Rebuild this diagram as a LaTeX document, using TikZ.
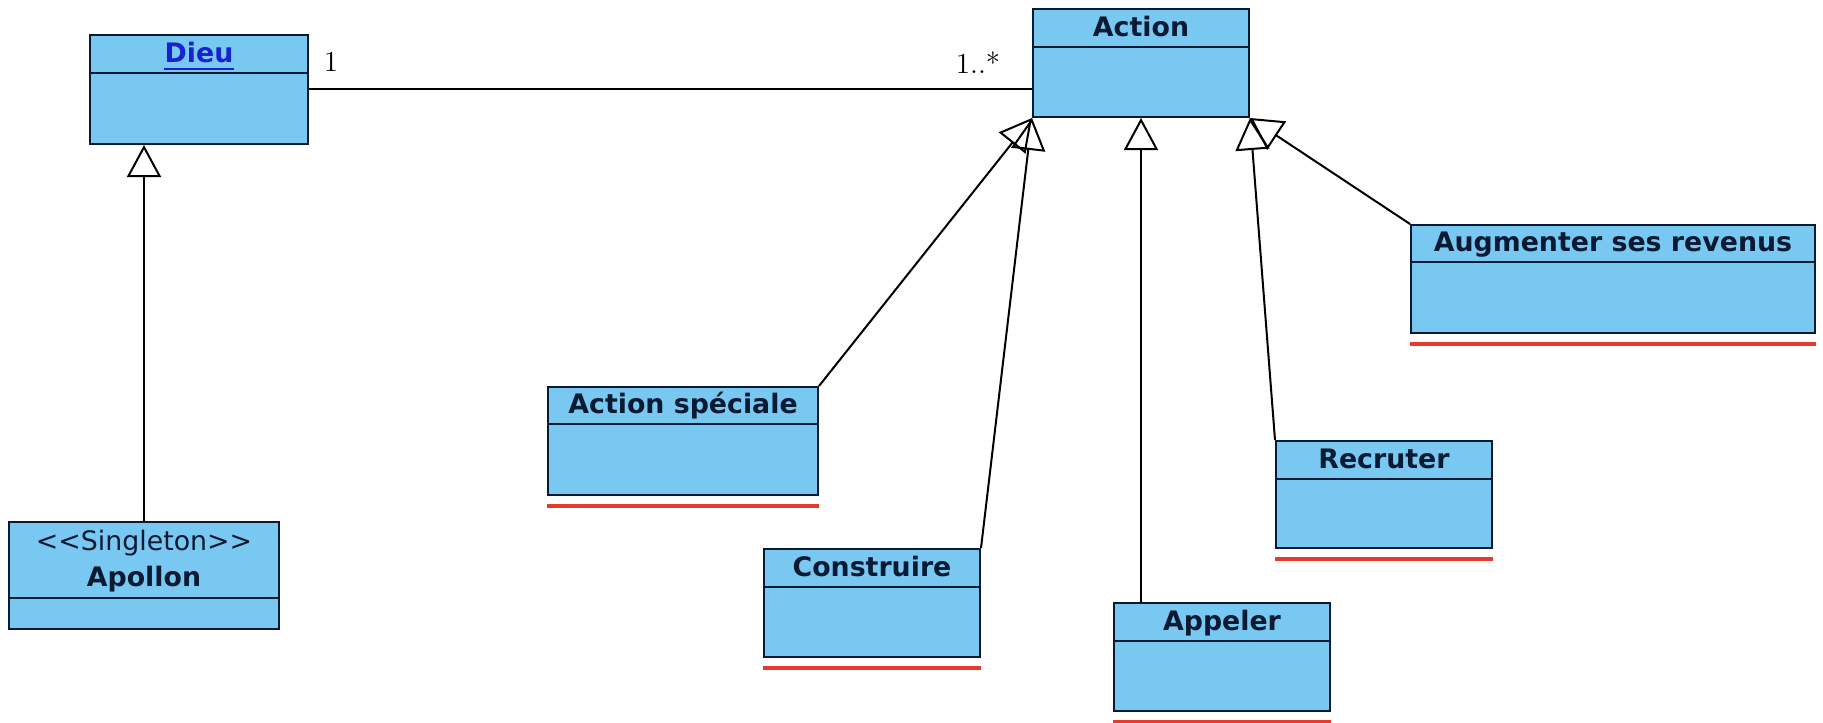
\documentclass[tikz,border=0pt]{standalone}
\usepackage{fontspec}
\newfontfamily\umlfont{DejaVu Sans}
\usetikzlibrary{arrows.meta,fit}

\definecolor{classfill}{HTML}{78C8F2}
\definecolor{classink}{HTML}{0B1A33}
\definecolor{linkblue}{HTML}{1A22D0}
\definecolor{abstractred}{HTML}{E63A2E}

\tikzset{
  classbox/.style={rectangle, draw=classink, fill=classfill, line width=1pt, inner sep=0pt},
  compartment/.style={draw=classink, line width=1pt},
  classname/.style={anchor=base, inner sep=0pt, text=classink,
    font=\umlfont\bfseries\fontsize{13.4}{16}\selectfont},
  stereo/.style={anchor=base, inner sep=0pt, text=classink,
    font=\umlfont\fontsize{13.4}{16}\selectfont},
  gen/.style={draw=black, line width=1pt, -{Triangle[open, length=16pt, width=17pt]}},
  assoc/.style={draw=black, line width=1pt},
  mult/.style={inner sep=0pt, font=\fontsize{14.5}{17}\selectfont},
  abstractmark/.style={draw=abstractred, line width=1.6pt},
}

\begin{document}
\begin{tikzpicture}[x=0.5pt, y=-0.5pt]
\useasboundingbox (0,0) rectangle (1823,722);

% class boxes
\node[classbox, fit={(90,35) (308,144)}] (dieu) {};
\node[classbox, fit={(9,522) (279,629)}] (apollon) {};
\node[classbox, fit={(1033,9) (1249,117)}] (action) {};
\node[classbox, fit={(1411,225) (1815,333)}] (augmenter) {};
\node[classbox, fit={(548,387) (818,495)}] (speciale) {};
\node[classbox, fit={(764,549) (980,657)}] (construire) {};
\node[classbox, fit={(1114,603) (1330,711)}] (appeler) {};
\node[classbox, fit={(1276,441) (1492,548)}] (recruter) {};

% compartment separators
\draw[compartment] (dieu.west |- 0,73) -- (dieu.east |- 0,73);
\draw[compartment] (apollon.west |- 0,598) -- (apollon.east |- 0,598);
\draw[compartment] (action.west |- 0,47) -- (action.east |- 0,47);
\draw[compartment] (augmenter.west |- 0,262) -- (augmenter.east |- 0,262);
\draw[compartment] (speciale.west |- 0,424) -- (speciale.east |- 0,424);
\draw[compartment] (construire.west |- 0,587) -- (construire.east |- 0,587);
\draw[compartment] (appeler.west |- 0,641) -- (appeler.east |- 0,641);
\draw[compartment] (recruter.west |- 0,479) -- (recruter.east |- 0,479);

% class names
\node[classname, text=linkblue] (dieuname) at (dieu.north |- 0,63) {Dieu};
\draw[linkblue, line width=1pt] ([yshift=-3pt]dieuname.base west) -- ([yshift=-3pt]dieuname.base east);
\node[stereo] (apollonstereo) at (apollon.north |- 0,550) {<<Singleton>>};
\node[classname] (apollonname) at (apollon.north |- 0,586) {Apollon};
\node[classname] (actionname) at (action.north |- 0,36.5) {Action};
\node[classname] (augmentername) at (augmenter.north |- 0,251.5) {Augmenter ses revenus};
\node[classname] (specialename) at (speciale.north |- 0,413.5) {Action spéciale};
\node[classname] (construirename) at (construire.north |- 0,576.5) {Construire};
\node[classname] (appelername) at (appeler.north |- 0,630.5) {Appeler};
\node[classname] (recrutername) at (recruter.north |- 0,468.5) {Recruter};

% abstract-class marks under the subclasses
\foreach \c in {augmenter, speciale, construire, appeler, recruter}
  \draw[abstractmark] ([yshift=-5pt]\c.south west) -- ([yshift=-5pt]\c.south east);

% association Dieu -- Action
\draw[assoc] (dieu.east) -- (action.west |- dieu.east);
\node[mult] (multdieu) at (331,62) {1};
\node[mult] (multaction) at (978,63) {1..*};

% generalizations
\draw[gen] (apollon.north) -- (apollon.north |- dieu.south);
\draw[gen] (speciale.north east) -- (action.south west);
\draw[gen] (construire.north east) -- (action.south west);
\draw[gen] (action.south |- appeler.north) -- (action.south);
\draw[gen] (recruter.north west) -- (action.south east);
\draw[gen] (augmenter.north west) -- (action.south east);
\end{tikzpicture}
\end{document}
